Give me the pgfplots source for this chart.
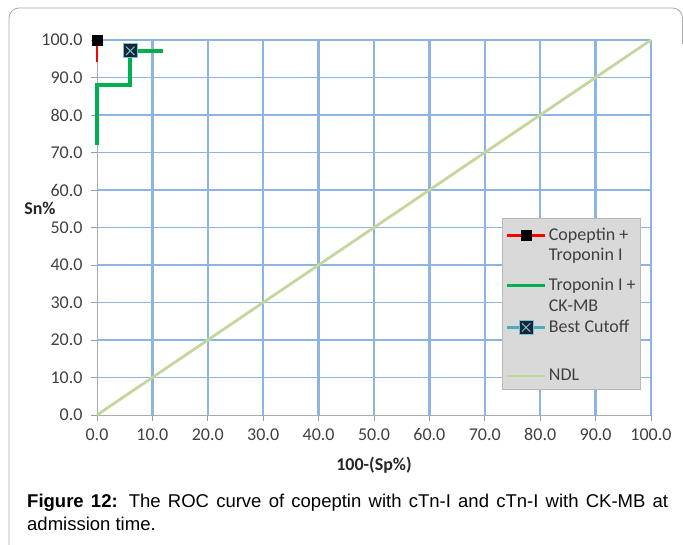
\documentclass[border=0pt]{standalone}
\usepackage{fontspec}
\setmainfont{Carlito}
\newfontfamily\capfont{Liberation Sans}
\usepackage{pgfplots}
\pgfplotsset{compat=1.18}

\definecolor{gridblue}{RGB}{142,180,227}
\definecolor{axgray}{RGB}{170,170,170}
\definecolor{txtgray}{RGB}{64,64,64}
\definecolor{roc1}{RGB}{255,0,0}
\definecolor{roc2}{RGB}{0,176,80}
\definecolor{cutline}{RGB}{75,172,198}
\definecolor{cutfill}{RGB}{22,38,52}
\definecolor{cutedge}{RGB}{120,190,215}
\definecolor{ndl}{RGB}{195,214,155}
\definecolor{legfill}{RGB}{217,217,217}

% square with a cross inside (Best Cutoff marker)
\pgfdeclareplotmark{boxx}{%
  \pgfpathrectangle{\pgfqpoint{-\pgfplotmarksize}{-\pgfplotmarksize}}%
    {\pgfqpoint{2\pgfplotmarksize}{2\pgfplotmarksize}}%
  \pgfusepathqfillstroke
  \pgfpathmoveto{\pgfqpoint{-0.6\pgfplotmarksize}{-0.6\pgfplotmarksize}}%
  \pgfpathlineto{\pgfqpoint{0.6\pgfplotmarksize}{0.6\pgfplotmarksize}}%
  \pgfpathmoveto{\pgfqpoint{-0.6\pgfplotmarksize}{0.6\pgfplotmarksize}}%
  \pgfpathlineto{\pgfqpoint{0.6\pgfplotmarksize}{-0.6\pgfplotmarksize}}%
  \pgfusepathqstroke}

% legend line: height above baseline, depth below, text
\newcommand{\legline}[3]{\rule[-#2pt]{0pt}{\dimexpr#1pt+#2pt\relax}#3}

\begin{document}
\begin{tikzpicture}
\begin{axis}[
    set layers,
    at={(97pt,129pt)}, anchor=south west,
    width=554pt, height=375pt, scale only axis,
    xmin=0, xmax=100, ymin=0, ymax=100,
    clip=false,
    axis x line*=bottom, axis y line*=left,
    axis line style={-, axgray, line width=0.8pt},
    xtick={0,10,...,100}, ytick={0,10,...,100},
    tick align=outside, major tick length=6pt,
    tick style={gridblue!60!gray, line width=0.8pt},
    extra x ticks={10,20,...,100}, extra y ticks={10,20,...,100},
    extra x tick labels={}, extra y tick labels={},
    extra x tick style={grid=major, major tick length=0pt,
      major grid style={gridblue, line width=2.4pt}},
    extra y tick style={grid=major, major tick length=0pt,
      major grid style={gridblue, line width=1.6pt}},
    /pgf/number format/fixed,
    /pgf/number format/fixed zerofill,
    /pgf/number format/precision=1,
    /pgf/number format/assume math mode=true,
    tick label style={font=\fontsize{18}{20}\selectfont, text=txtgray},
    yticklabel style={xshift=-5pt},
    xticklabel style={yshift=-4pt},
    xlabel={\textbf{100-(Sp\%)}}, ylabel={\textbf{Sn\%}},
    every axis x label/.style={at={(rel axis cs:0.5,0)}, anchor=center, yshift=-50pt,
      font=\fontsize{18}{20}\selectfont, text=black!85},
    every axis y label/.style={at={(rel axis cs:-0.103,0.552)}, anchor=center,
      font=\fontsize{18}{20}\selectfont, text=black!85},
    legend image code/.code={\draw[mark repeat=2,mark phase=2,#1]
      plot coordinates {(0pt,5pt) (19pt,5pt) (38pt,5pt)};},
    legend style={at={(0.731,0.525)}, anchor=north west,
      fill=legfill, draw=legfill!85!black, line width=0.6pt,
      font=\fontsize{18}{21.5}\selectfont, text=txtgray,
      cells={anchor=base west, inner ysep=0pt, inner xsep=2pt},
      row sep=0pt, inner xsep=3pt, inner ysep=5pt},
]
\addplot[roc1, line width=2.6pt, mark=square*, mark size=4.8pt,
  mark options={black, line width=0.4pt}, mark indices={2}]
  coordinates {(0,94) (0,100)};
\addlegendentry{\legline{15}{6}{Copeptin +}}
\addlegendimage{empty legend}
\addlegendentry{\legline{15}{6}{Troponin I}}

\addplot[roc2, line width=3.6pt]
  coordinates {(0,72) (0,88) (6,88) (6,97.1) (12,97.1)};
\addlegendentry{\legline{24}{6}{Troponin I +}}
\addlegendimage{empty legend}
\addlegendentry{\legline{16}{6}{CK-MB}}

\addplot[cutline, line width=2.2pt, mark=boxx, mark size=7pt,
  mark options={fill=cutfill, draw=cutedge, line width=1pt}]
  coordinates {(6,97.1)};
\addlegendentry{\legline{15}{6}{Best Cutoff}}

\addplot[ndl, line width=2.8pt] coordinates {(0,0) (100,100)};
\addlegendentry{\legline{43}{22}{NDL}}
\end{axis}

\draw[axgray, line width=0.8pt, rounded corners=10pt] (9pt,-5pt) -- (9pt,536pt) -- (682.5pt,536pt) -- (682.5pt,500pt);
\node[anchor=north west, text width=641pt, align=justify, inner sep=0pt,
  font=\capfont\fontsize{18.5}{23}\selectfont] at (27pt,50pt)
  {\textbf{Figure 12:} The ROC curve of copeptin with cTn-I and cTn-I with CK-MB at\linebreak admission time.};
\pgfresetboundingbox
\useasboundingbox (0pt,0pt) rectangle (683pt,544pt);
\end{tikzpicture}
\end{document}
